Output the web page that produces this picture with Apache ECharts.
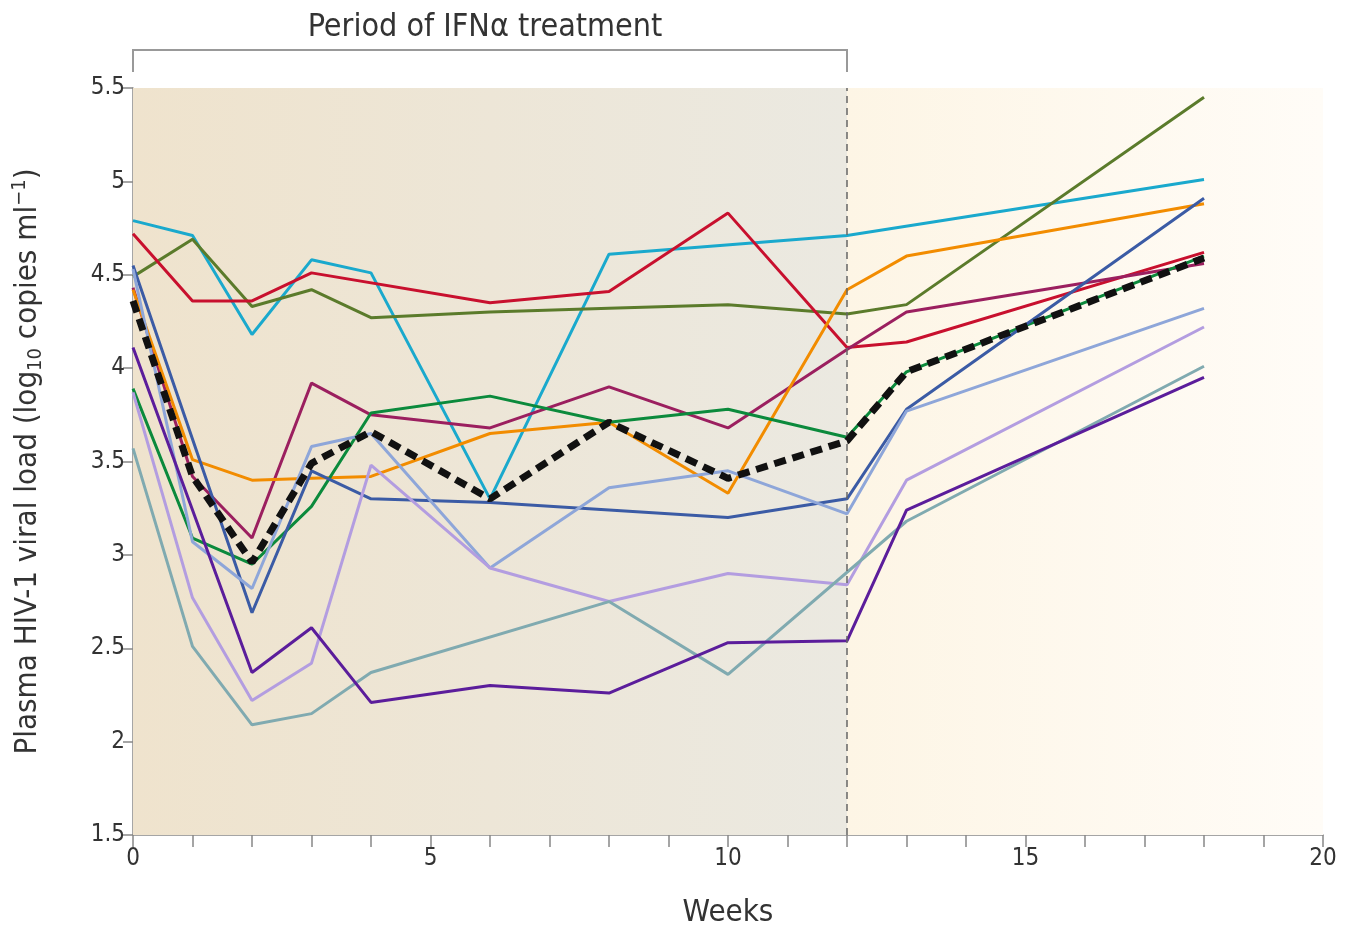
<!DOCTYPE html>
<html>
<head>
<meta charset="utf-8">
<script src="https://cdn.jsdelivr.net/npm/echarts@6/dist/echarts.min.js"></script>
<style>
html,body{margin:0;padding:0;background:#fff;}
#chart{width:1358px;height:929px;}
</style>
</head>
<body>
<div id="chart"></div>
<script>
// ---- data ----
const weeks = [0, 1, 2, 3, 4, 6, 8, 10, 12, 13, 18];
const cyanVals      = [4.79, 4.71, 4.18, 4.58, 4.51, 3.30, 4.61, null, 4.71, null, 5.01];
const redVals       = [4.72, 4.36, 4.36, 4.51, null, 4.35, 4.41, 4.83, 4.11, 4.14, 4.62];
const oliveVals     = [4.49, 4.69, 4.33, 4.42, 4.27, 4.30, 4.32, 4.34, 4.29, 4.34, 5.45];
const maroonVals    = [4.43, 3.42, 3.09, 3.92, 3.75, 3.68, 3.90, 3.68, 4.10, 4.30, 4.56];
const greenVals     = [3.89, 3.09, 2.95, 3.26, 3.76, 3.85, 3.71, 3.78, 3.63, 3.98, 4.60];
const orangeVals    = [4.42, 3.51, 3.40, 3.41, 3.42, 3.65, 3.71, 3.33, 4.42, 4.60, 4.88];
const blueVals      = [4.55, null, 2.69, 3.45, 3.30, 3.28, null, 3.20, 3.30, 3.78, 4.91];
const periwinkleVals= [4.53, 3.07, 2.82, 3.58, 3.65, 2.93, 3.36, 3.45, 3.22, 3.77, 4.32];
const lavenderVals  = [3.87, 2.77, 2.22, 2.42, 3.48, 2.93, 2.75, 2.90, 2.84, 3.40, 4.22];
const tealVals      = [3.57, 2.51, 2.09, 2.15, 2.37, null, 2.75, 2.36, null, 3.18, 4.01];
const purpleVals    = [4.11, null, 2.37, 2.61, 2.21, 2.30, 2.26, 2.53, 2.54, 3.24, 3.95];
const meanVals      = [4.36, 3.42, 2.96, 3.49, 3.66, 3.30, 3.71, 3.41, 3.61, 3.98, 4.59];

const treatmentEnd = 12;
const xTicks = [0, 5, 10, 15, 20];
const yTicks = [1.5, 2, 2.5, 3, 3.5, 4, 4.5, 5, 5.5];
const titleText = 'Period of IFN\u03b1 treatment';

const FONT = "'Liberation Sans Narrow','DejaVu Sans Condensed','Open Sans',sans-serif";

function pts(vals){ return weeks.map((w,i)=>[w, vals[i]]); }

const lines = [
  {vals: cyanVals, color:'#1aa9cd'},
  {vals: oliveVals, color:'#5b7b2b'},
  {vals: redVals, color:'#c8102e'},
  {vals: maroonVals, color:'#9b1f5f'},
  {vals: orangeVals, color:'#f28c00'},
  {vals: greenVals, color:'#0b8a3c'},
  {vals: blueVals, color:'#3b5ba5'},
  {vals: periwinkleVals, color:'#8ea6d9'},
  {vals: lavenderVals, color:'#b39de0'},
  {vals: tealVals, color:'#80aab0'},
  {vals: purpleVals, color:'#5b1d9b'}
];

const series = [];
series.push({
  type:'line', data:[], silent:true, z:0,
  markArea:{
    silent:true,
    data:[
      [{xAxis:0, yAxis:5.5, itemStyle:{color:new echarts.graphic.LinearGradient(0,0,1,0,[
          {offset:0,color:'#efe3cd'},{offset:1,color:'#ebe9e1'}])}},
       {xAxis:treatmentEnd, yAxis:1.5}],
      [{xAxis:treatmentEnd, yAxis:5.5, itemStyle:{color:new echarts.graphic.LinearGradient(0,0,1,0,[
          {offset:0,color:'#fdf5e5'},{offset:1,color:'#fffcf7'}])}},
       {xAxis:20, yAxis:1.5}]
    ]
  },
  markLine:{
    silent:true, symbol:'none', label:{show:false},
    lineStyle:{color:'#666', type:[7,5], width:1.5},
    data:[{xAxis:treatmentEnd}]
  }
});
lines.forEach(l=>{
  series.push({
    type:'line', data:pts(l.vals), connectNulls:true, symbol:'none', z:3,
    lineStyle:{color:l.color, width:3}, itemStyle:{color:l.color}
  });
});
series.push({
  type:'line', data:pts(meanVals), connectNulls:true, symbol:'none', z:5,
  lineStyle:{color:'#111', width:7, type:[12,7]}
});

const chart = echarts.init(document.getElementById('chart'));
chart.setOption({
  animation:false,
  backgroundColor:'#ffffff',
  grid:{left:133, right:35, top:88, bottom:94, containLabel:false, outerBoundsMode:'none'},
  xAxis:{
    type:'value', min:0, max:20, interval:1,
    name:'Weeks', nameLocation:'middle', nameGap:62,
    nameTextStyle:{fontFamily:FONT, fontSize:31, color:'#333'},
    axisLine:{lineStyle:{color:'#888', width:1.5}},
    axisTick:{show:true, length:12, lineStyle:{color:'#888', width:1.5}},
    axisLabel:{fontFamily:FONT, fontSize:24, color:'#333', margin:12,
      formatter:v=> xTicks.includes(v) ? String(v) : ''},
    splitLine:{show:false}
  },
  yAxis:{
    type:'value', min:1.5, max:5.5, interval:0.5,
    name:'Plasma HIV-1 viral load (log{sub|10} copies ml{sup|\u22121})',
    nameLocation:'middle', nameGap:87,
    nameTextStyle:{fontFamily:FONT, fontSize:31, color:'#333',
      rich:{
        sub:{fontFamily:FONT, fontSize:20, color:'#333', verticalAlign:'bottom', padding:[16,0,0,0]},
        sup:{fontFamily:FONT, fontSize:20, color:'#333', verticalAlign:'top', padding:[0,0,14,0]}
      }},
    axisLine:{show:true, lineStyle:{color:'#888', width:1.5}},
    axisTick:{show:true, length:10, lineStyle:{color:'#888', width:1.5}},
    axisLabel:{fontFamily:FONT, fontSize:24, color:'#333', margin:8,
      formatter:v=> yTicks.some(t=>Math.abs(t-v)<1e-9) ? String(v) : ''},
    splitLine:{show:false}
  },
  series: series
});

const x0 = chart.convertToPixel({xAxisIndex:0}, 0);
const x1 = chart.convertToPixel({xAxisIndex:0}, treatmentEnd);
const yTop = chart.convertToPixel({yAxisIndex:0}, 5.5);
const barY = yTop - 38;
chart.setOption({
  graphic:[
    {type:'polyline', silent:true,
     shape:{points:[[x0, yTop-16],[x0, barY],[x1, barY],[x1, yTop-16]]},
     style:{stroke:'#999', lineWidth:2, fill:null}},
    {type:'text', silent:true, x:(x0+x1)/2 - 5, y:barY-22,
     style:{text:titleText, font:'32px '+FONT, fill:'#333', textAlign:'center', textVerticalAlign:'middle'}}
  ]
});
</script>
</body>
</html>
